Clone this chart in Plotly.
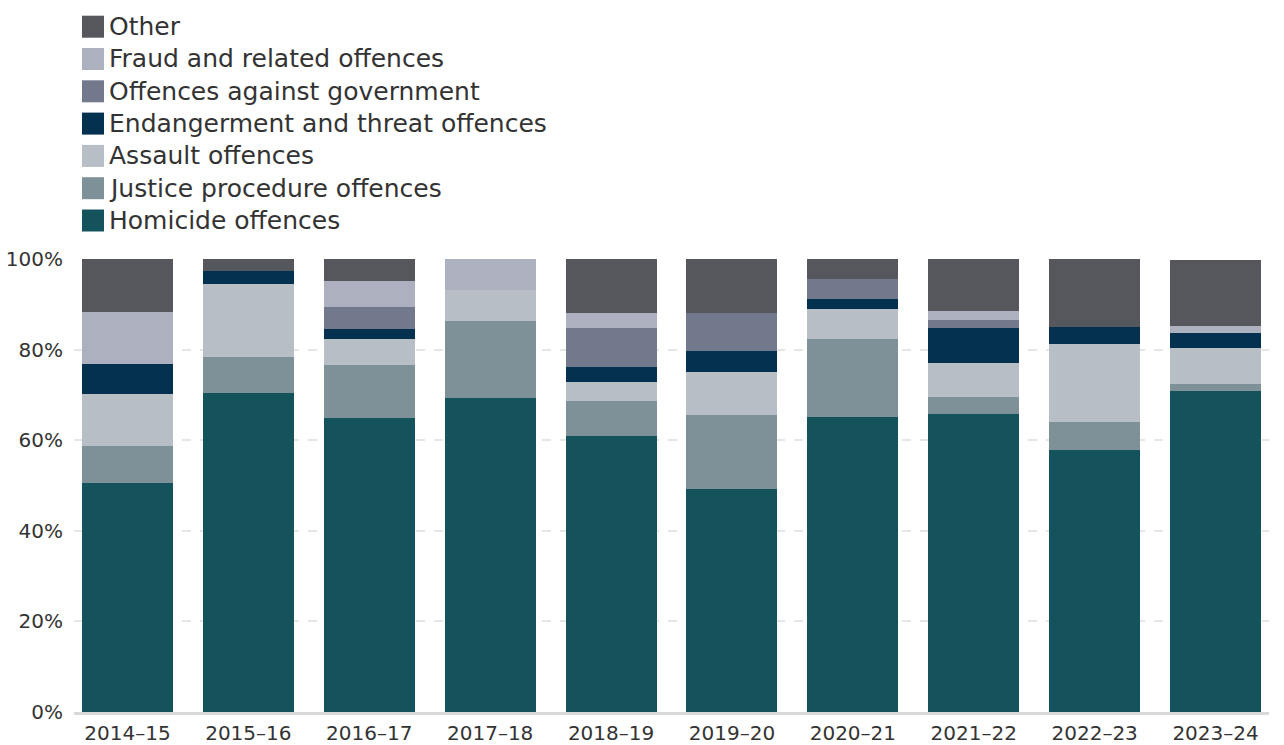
import plotly.graph_objects as go

# Financial years shown along the x axis
years = ["2014–15", "2015–16", "2016–17", "2017–18", "2018–19",
         "2019–20", "2020–21", "2021–22", "2022–23", "2023–24"]

# Share of cases (%) by principal offence, stacked bottom to top
homicide = [50.6, 70.4, 64.9, 69.3, 60.9, 49.2, 65.1, 65.8, 57.8, 70.9]
justice = [8.2, 8.0, 11.7, 17.0, 7.8, 16.4, 17.2, 3.7, 6.2, 1.5]
assault = [11.5, 16.1, 5.7, 6.9, 4.1, 9.5, 6.7, 7.5, 17.2, 8.0]
endangerment = [6.6, 2.9, 2.2, 0.0, 3.4, 4.6, 2.2, 7.8, 3.8, 3.3]
government = [0.0, 0.0, 4.9, 0.0, 8.6, 8.4, 4.4, 1.7, 0.0, 0.0]
fraud = [11.5, 0.0, 5.7, 6.8, 3.3, 0.0, 0.0, 2.0, 0.0, 1.5]
other = [11.7, 2.6, 4.9, 0.0, 11.9, 11.9, 4.4, 11.5, 15.0, 14.6]

y_ticks = [0, 20, 40, 60, 80, 100]
y_tick_labels = ["0%", "20%", "40%", "60%", "80%", "100%"]

series = [
    ("Homicide offences", homicide, "#15535C"),
    ("Justice procedure offences", justice, "#7E9198"),
    ("Assault offences", assault, "#B7BEC5"),
    ("Endangerment and threat offences", endangerment, "#04314F"),
    ("Offences against government", government, "#73798D"),
    ("Fraud and related offences", fraud, "#ADB0BE"),
    ("Other", other, "#56575C"),
]

FONT = "'DejaVu Sans', sans-serif"
TEXT = "#333333"

fig = go.Figure()
for name, vals, color in series:
    fig.add_trace(go.Bar(
        x=years, y=vals, name=name,
        marker=dict(color=color, line=dict(width=0)),
        showlegend=False,
    ))

# Page geometry (pixels) for the plot area
W, H = 1284, 745
L, R, T, B = 74, 15, 259, 33
pw, ph = W - L - R, H - T - B


def px_x(x):
    return (x - L) / pw


def px_y(y):
    return (H - B - y) / ph


# Hand-built legend: top row is the last stacked series
shapes = []
annotations = []
row0, step, sw = 26.7, 32.3, 22
for i, (name, vals, color) in enumerate(reversed(series)):
    cy = row0 + i * step
    shapes.append(dict(
        type="rect", xref="paper", yref="paper",
        x0=px_x(82), x1=px_x(82 + sw),
        y0=px_y(cy - sw / 2), y1=px_y(cy + sw / 2),
        fillcolor=color, line=dict(width=0), layer="above",
    ))
    annotations.append(dict(
        xref="paper", yref="paper", x=px_x(107), y=px_y(cy),
        xanchor="left", yanchor="middle", showarrow=False,
        text=name, font=dict(family=FONT, size=25, color=TEXT),
    ))

fig.update_layout(
    barmode="stack",
    bargap=0.248,
    width=W, height=H,
    margin=dict(l=L, r=R, t=T, b=B, pad=0),
    paper_bgcolor="white",
    plot_bgcolor="white",
    font=dict(family=FONT, color=TEXT, size=20),
    shapes=shapes,
    annotations=annotations,
    xaxis=dict(
        range=[-0.442, 9.442], automargin=False,
        showline=True, linecolor="#D9D9D9", linewidth=3,
        showgrid=False, ticks="", ticklabelstandoff=1,
        tickfont=dict(size=20, color=TEXT),
    ),
    yaxis=dict(
        range=[0, 100], automargin=False,
        tickvals=y_ticks, ticktext=y_tick_labels,
        showgrid=True, gridcolor="#E6E6E6", gridwidth=1.5, griddash="dash",
        zeroline=False, showline=False, ticks="",
        ticklabelstandoff=10,
        tickfont=dict(size=20, color=TEXT),
    ),
)

fig.write_html("out.html")
